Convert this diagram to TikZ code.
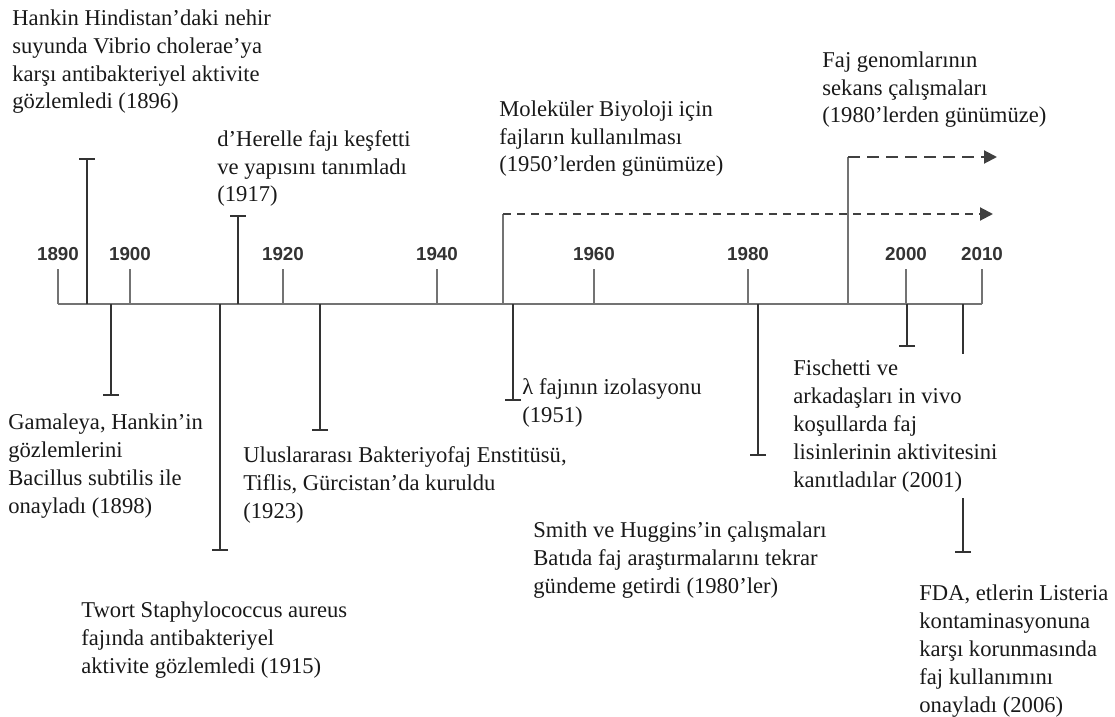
\documentclass[tikz,border=0pt]{standalone}
\usepackage{fontspec}
\setmainfont{Liberation Serif}
\newfontfamily\yearfont{Liberation Sans}
\usetikzlibrary{arrows.meta}

\begin{document}
\begin{tikzpicture}[x=0.5pt, y=-0.5pt,
    axis/.style={draw=black!55, line width=1.1pt},
    riser/.style={draw=black!55, line width=0.9pt},
    event/.style={draw=black!80, line width=0.8pt, -{Bar[width=8pt]}},
    period/.style={draw=black!75, line width=1pt, -{Triangle[length=6.5pt,width=6.5pt]}},
    year/.style={font=\yearfont\bfseries\fontsize{9.4}{11}\selectfont, text=black!80, anchor=base},
    note/.style={font=\fontsize{11.3}{13.9}\selectfont, text=black!90, align=left, anchor=base west, inner sep=0pt}]

    \useasboundingbox (0,0) rectangle (1115,717);

    % Axis and years
    \foreach \yr/\xx in {1890/58, 1900/130, 1920/283, 1940/437, 1960/594, 1980/748, 2000/906, 2010/982} {
        \coordinate (t\yr) at (\xx,304);
        \coordinate (u\yr) at (\xx,269);
        \node[year] (l\yr) at (\xx,260) {\yr};
        \draw[axis] (t\yr) -- (u\yr);
    }
    \draw[axis] (t1890) -- (t2010);

    % Events
    \foreach \ev/\xx/\yy in {1896/87/158, 1917/238/215, 1898/111/396, 1915/220/551, 1923/320/431,
                             1951/513/401, 1980s/758/456, 2001/907/347, 2006/963/553} {
        \coordinate (a\ev) at (\xx,304);
        \coordinate (e\ev) at (\xx,\yy);
        \draw[event] (a\ev) -- (e\ev);
    }

    % Periods
    \coordinate (a1950) at (503,304);
    \coordinate (c1950) at (503,214);
    \coordinate (z1950) at (993,214);
    \coordinate (a1980) at (848,304);
    \coordinate (c1980) at (848,157);
    \coordinate (z1980) at (997,157);
    \draw[riser] (a1950) -- (c1950);
    \draw[riser] (a1980) -- (c1980);
    \draw[period, dash pattern=on 4pt off 3pt] (c1950) -- (z1950);
    \draw[period, dash pattern=on 6pt off 3.5pt] (c1980) -- (z1980);

    % Labels (anchored at the last line)
    \node[note] (hankin) at (12,109) {Hankin Hindistan'daki nehir\\suyunda Vibrio cholerae'ya\\karşı antibakteriyel aktivite\\gözlemledi (1896)};
    \node[note] (herelle) at (217,202) {d'Herelle fajı keşfetti\\ve yapısını tanımladı\\(1917)};
    \node[note] (molbio) at (499,172) {Moleküler Biyoloji için\\fajların kullanılması\\(1950'lerden günümüze)};
    \node[note] (genome) at (822,123) {Faj genomlarının\\sekans çalışmaları\\(1980'lerden günümüze)};
    \node[note] (gamaleya) at (8,513) {Gamaleya, Hankin'in\\gözlemlerini\\Bacillus subtilis ile\\onayladı (1898)};
    \node[note] (institute) at (243,518) {Uluslararası Bakteriyofaj Enstitüsü,\\Tiflis, Gürcistan'da kuruldu\\(1923)};
    \node[note] (twort) at (81,673) {Twort Staphylococcus aureus\\fajında antibakteriyel\\aktivite gözlemledi (1915)};
    \node[note] (lambda) at (522,422) {λ fajının izolasyonu\\(1951)};
    \node[note] (smith) at (533,593) {Smith ve Huggins'in çalışmaları\\Batıda faj araştırmalarını tekrar\\gündeme getirdi (1980'ler)};
    \node[note, fill=white, inner ysep=3pt] (fischetti) at (793,487) {Fischetti ve\\arkadaşları in vivo\\koşullarda faj\\lisinlerinin aktivitesini\\kanıtladılar (2001)};
    \node[note] (fda) at (919,712) {FDA, etlerin Listeria\\kontaminasyonuna\\karşı korunmasında\\faj kullanımını\\onayladı (2006)};
\end{tikzpicture}
\end{document}
